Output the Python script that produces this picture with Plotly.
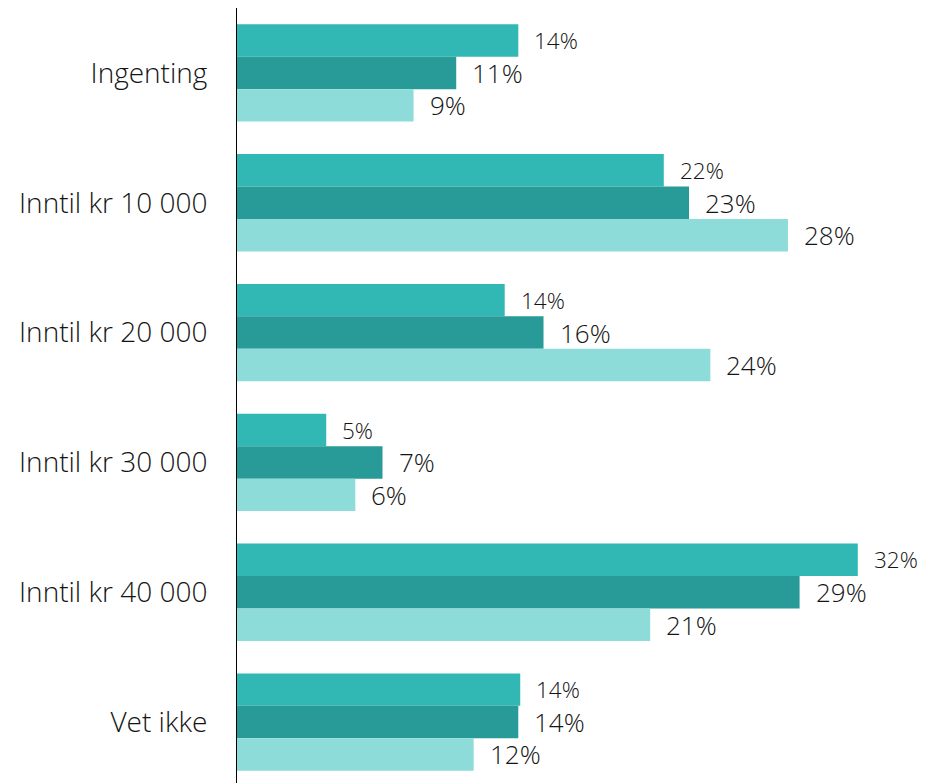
import plotly.graph_objects as go

categories = ["Ingenting", "Inntil kr 10 000", "Inntil kr 20 000", "Inntil kr 30 000", "Inntil kr 40 000", "Vet ikke"]
series_a = [14.5, 22.0, 13.8, 4.6, 32.0, 14.6]
series_b = [11.3, 23.3, 15.8, 7.5, 29.0, 14.5]
series_c = [9.1, 28.4, 24.4, 6.1, 21.3, 12.2]
labels_a = ["14%", "22%", "14%", "5%", "32%", "14%"]
labels_b = ["11%", "23%", "16%", "7%", "29%", "14%"]
labels_c = ["9%", "28%", "24%", "6%", "21%", "12%"]

colors = ["#31B8B4", "#289A97", "#8EDCDA"]
font_family = "Open Sans"
series = [(series_a, labels_a, 22.5, 32.4), (series_b, labels_b, 26, 0), (series_c, labels_c, 26, -32.4)]

fig = go.Figure()
annotations = []
for i, (vals, labs, fs, ysh) in enumerate(series):
    fig.add_trace(go.Bar(y=categories, x=vals, orientation="h", marker=dict(color=colors[i], line=dict(width=0)),
                         hoverinfo="skip"))
    for c, v, l in zip(categories, vals, labs):
        annotations.append(dict(x=v, y=c, text=l, xanchor="left", yanchor="middle", showarrow=False,
                                xshift=14, yshift=ysh,
                                font=dict(size=fs, color="#141414", family=font_family, weight=300)))

fig.update_layout(
    width=930, height=783,
    margin=dict(l=229, r=22, t=0, b=4),
    barmode="group", bargap=0.25, bargroupgap=0,
    showlegend=False,
    plot_bgcolor="white", paper_bgcolor="white",
    annotations=annotations,
    xaxis=dict(range=[0, 35], visible=False, showgrid=False, zeroline=False),
    yaxis=dict(autorange="reversed", showline=True, linecolor="black", linewidth=1, ticks="",
               ticklabelstandoff=23, showgrid=False, automargin=False,
               tickfont=dict(size=28, color="#141414", family=font_family, weight=300)),
)
fig.write_html("out.html")
